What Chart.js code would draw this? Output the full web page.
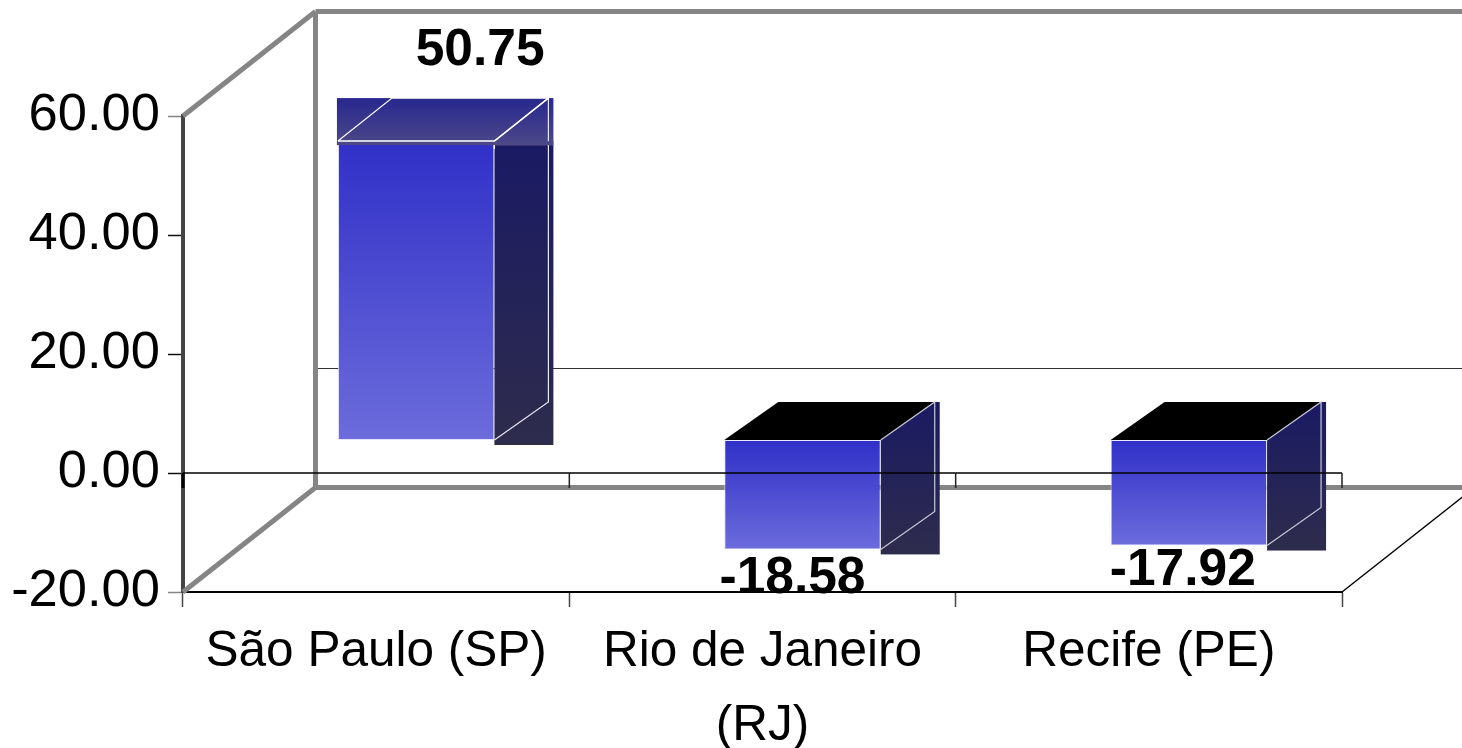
<!DOCTYPE html>
<html>
<head>
<meta charset="utf-8">
<title>Chart</title>
<script src="https://cdn.jsdelivr.net/npm/chart.js@4"></script>
<style>
  html, body { margin: 0; padding: 0; background: #fff; overflow: hidden; }
  canvas { display: block; }
</style>
</head>
<body>
<canvas id="myChart" width="1462" height="748"></canvas>
<script>
const categories = [['São Paulo (SP)'], ['Rio de Janeiro', '(RJ)'], ['Recife (PE)']];
const values = [50.75, -18.58, -17.92];
const tickValues = [60, 40, 20, 0, -20];

// 3d look, in px
const wallX = 132.5, wallY = 104.5;   // front of the box -> back wall
const barShift = 40;                  // bars stand inside the box
const depthX = 54, depthY = 38, litDepthY = 43;
// label spot relative to the bar end [x, baseline y]
const labelNudge = [[64, -76], [-10, 44], [-6, 39]];

const GREY = '#858585';
const FONT = '"Liberation Sans", Arial, sans-serif';

function line(ctx, color, width, pts) {
  ctx.beginPath();
  ctx.strokeStyle = color;
  ctx.lineWidth = width;
  pts.forEach((p, i) => i ? ctx.lineTo(p[0], p[1]) : ctx.moveTo(p[0], p[1]));
  ctx.stroke();
}

function vGrad(ctx, y0, y1, c0, c1) {
  const g = ctx.createLinearGradient(0, y0, 0, y1);
  g.addColorStop(0, c0);
  g.addColorStop(1, c1);
  return g;
}

const box3d = {
  id: 'box3d',
  // back wall and floor
  beforeDatasetsDraw(chart) {
    const ctx = chart.ctx, y = chart.scales.y, a = chart.chartArea;
    const backX = a.left + wallX, end = a.right + wallX;
    ctx.save();
    line(ctx, '#333', 1.2, [[backX, y.getPixelForValue(0) - wallY], [end, y.getPixelForValue(0) - wallY]]);
    line(ctx, GREY, 5, [[a.left, a.top], [backX, a.top - wallY]]);
    line(ctx, GREY, 5, [[a.left, a.bottom], [backX, a.bottom - wallY]]);
    line(ctx, GREY, 5, [[backX, a.top - wallY], [end, a.top - wallY]]);
    line(ctx, GREY, 5, [[backX, a.top - wallY], [backX, a.bottom - wallY]]);
    line(ctx, GREY, 5, [[backX, a.bottom - wallY], [end, a.bottom - wallY]]);
    line(ctx, '#000', 1.5, [[a.right, a.bottom], [end, a.bottom - wallY]]);
    ctx.restore();
  },
  // side and top of each bar, the library then draws the front on top
  beforeDatasetDraw(chart, args) {
    const ctx = chart.ctx;
    ctx.save();
    ctx.translate(barShift, 0);
    args.meta.data.forEach((el, i) => {
      const x0 = el.x - el.width / 2, x1 = el.x + el.width / 2;
      const top = Math.min(el.y, el.base), bot = Math.max(el.y, el.base);
      const lit = values[i] > 0;
      const up = lit ? litDepthY : depthY;

      const sideTop = lit ? top + 4 : top - up;
      ctx.fillStyle = vGrad(ctx, sideTop, bot + 5, '#1a1a64', '#2e2c4c');
      ctx.fillRect(x1, sideTop, depthX + 5, bot + 5 - sideTop);

      if (lit) {
        ctx.fillStyle = vGrad(ctx, top - up, top + 4, '#28288f', '#4c4888');
        ctx.fillRect(x0 - 1, top - up, x1 - x0 + depthX + 6, up + 4);
      } else {
        ctx.beginPath();
        ctx.moveTo(x0, top);
        ctx.lineTo(x0 + depthX, top - up);
        ctx.lineTo(x1 + depthX, top - up);
        ctx.lineTo(x1, top);
        ctx.closePath();
        ctx.fillStyle = '#000';
        ctx.fill();
      }

      const edge = lit ? '#e8e8f4' : '#c8c8d8';
      line(ctx, edge, 1.2, [[x1, top], [x1 + depthX, top - up], [x1 + depthX, bot - depthY], [x1, bot]]);
    });
  },
  afterDatasetDraw(chart, args) {
    const ctx = chart.ctx;
    // lit top keeps a thin band over the front face
    args.meta.data.forEach((el, i) => {
      if (values[i] <= 0) return;
      const x0 = el.x - el.width / 2, x1 = el.x + el.width / 2, top = el.y;
      ctx.fillStyle = '#4c4888';
      ctx.fillRect(x0 - 1, top, x1 - x0 + depthX + 6, 4);
      line(ctx, '#fff', 1.2, [[x0, top], [x0 + depthX, top - litDepthY], [x1 + depthX, top - litDepthY]]);
      line(ctx, '#fff', 1.5, [[x0, top], [x1, top], [x1 + depthX, top - litDepthY]]);
      line(ctx, '#fff', 1.2, [[x1, top + 4], [x1, top + 8]]);
    });
    ctx.restore();
  },
  // zero line runs in front of the bars, then the value labels
  afterDatasetsDraw(chart) {
    const ctx = chart.ctx, y = chart.scales.y, x = chart.scales.x, a = chart.chartArea;
    const zero = y.getPixelForValue(0);
    ctx.save();
    line(ctx, '#000', 1.5, [[a.left, zero], [a.right, zero]]);
    for (let i = 0; i <= categories.length; i++) {
      const px = x.left + i * x.width / categories.length;
      line(ctx, i ? '#222' : '#000', i ? 1.5 : 3, [[px, zero], [px, zero + 15]]);
    }
    ctx.fillStyle = '#000';
    ctx.font = 'bold 51.5px ' + FONT;
    ctx.textAlign = 'center';
    ctx.textBaseline = 'alphabetic';
    chart.getDatasetMeta(0).data.forEach((el, i) => {
      ctx.fillText(values[i].toFixed(2), el.x + barShift + labelNudge[i][0], el.y + labelNudge[i][1]);
    });
    ctx.restore();
  }
};

const data = {
  labels: categories,
  datasets: [{
    data: values,
    xAxisID: 'x',
    yAxisID: 'yBar',
    clip: false,
    categoryPercentage: 1,
    barPercentage: 0.405,
    borderWidth: 1,
    borderColor: 'rgba(225,225,250,0.85)',
    borderSkipped: false,
    backgroundColor: function(context) {
      const chart = context.chart;
      if (!chart.chartArea || context.parsed === undefined) return '#3030c8';
      const s = chart.scales.yBar;
      const v = context.parsed.y;
      return vGrad(chart.ctx, s.getPixelForValue(Math.max(v, 0)), s.getPixelForValue(Math.min(v, 0)), '#3030c8', '#6c6cdc');
    }
  }]
};

new Chart('myChart', {
  type: 'bar',
  data: data,
  plugins: [box3d],
  options: {
    responsive: false,
    animation: false,
    layout: { padding: { top: 116, right: 120, bottom: 0, left: 0 } },
    plugins: {
      legend: { display: false },
      tooltip: { enabled: false },
      title: { display: false }
    },
    scales: {
      x: {
        afterFit: function(scale) { scale.height = 156; },
        grid: { offset: true, drawOnChartArea: false, tickLength: 15, tickColor: '#444', tickWidth: 1.5 },
        border: { display: true, color: '#000', width: 2 },
        ticks: {
          color: '#000',
          padding: 8,
          autoSkip: false,
          maxRotation: 0,
          font: { family: FONT, size: 49.5, lineHeight: 1.5 }
        }
      },
      y: {
        min: -20,
        max: 60,
        afterFit: function(scale) { scale.width = 183; },
        afterBuildTicks: function(scale) { scale.ticks = tickValues.map(v => ({ value: v })); },
        grid: {
          drawOnChartArea: false,
          tickLength: 15,
          tickWidth: 1.5,
          tickColor: function(c) { return c.tick.value === 60 || c.tick.value === -20 ? GREY : '#111'; }
        },
        border: { display: true, color: '#444', width: 4 },
        ticks: {
          color: '#000',
          padding: 8,
          font: { family: FONT, size: 52.5 },
          callback: function(v) { return Number(v).toFixed(2); }
        }
      },
      // the bars stand further back so they get their own scale
      yBar: {
        display: false,
        min: -25.81,
        max: 55.01
      }
    }
  }
});
</script>
</body>
</html>
